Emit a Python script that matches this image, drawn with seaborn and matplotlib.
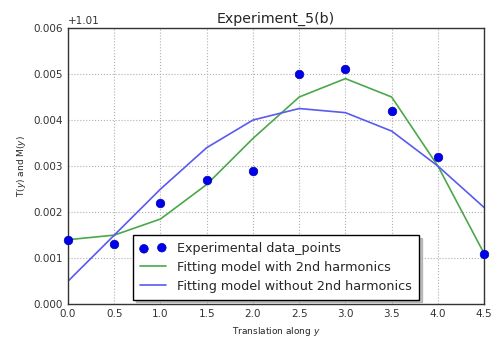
import numpy as np
import pandas as pd
import matplotlib
matplotlib.use("Agg")
import matplotlib.pyplot as plt
import seaborn as sns

x_vals = [0.0, 0.5, 1.0, 1.5, 2.0, 2.5, 3.0, 3.5, 4.0, 4.5]
base = 1.01
exp_points = [0.0014, 0.0013, 0.0022, 0.0027, 0.0029, 0.0050, 0.0051, 0.0042, 0.0032, 0.0011]
fit_with_2nd = [0.0014, 0.0015, 0.00185, 0.0026, 0.0036, 0.0045, 0.0049, 0.0045, 0.0030, 0.0011]
fit_without_2nd = [0.0005, 0.0015, 0.0025, 0.0034, 0.0040, 0.00425, 0.00416, 0.00376, 0.0030, 0.0021]

df = pd.DataFrame({
    "x": x_vals,
    "exp": [base + v for v in exp_points],
    "fit2": [base + v for v in fit_with_2nd],
    "fit1": [base + v for v in fit_without_2nd],
})

sns.set_style("white")
plt.rcParams["font.family"] = ["DejaVu Sans"]

fig, ax = plt.subplots(figsize=(4.93, 3.41), dpi=100)
fig.subplots_adjust(left=0.138, right=0.982, top=0.918, bottom=0.108)

sns.scatterplot(data=df, x="x", y="exp", ax=ax, color="#0000ee", s=38,
                edgecolor="#0000aa", linewidth=0.5, label="Experimental data_points",
                zorder=3, clip_on=False)
sns.lineplot(data=df, x="x", y="fit2", ax=ax, color="#4aa84a", linewidth=1.2,
             label="Fitting model with 2nd harmonics")
sns.lineplot(data=df, x="x", y="fit1", ax=ax, color="#5a5aee", linewidth=1.2,
             label="Fitting model without 2nd harmonics")

ax.set_xlim(0.0, 4.5)
ax.set_ylim(1.010, 1.016)
ax.set_xticks(np.arange(0, 4.51, 0.5))
ax.set_yticks(np.arange(1.010, 1.0161, 0.001))
fmt = matplotlib.ticker.ScalarFormatter(useOffset=1.01)
ax.yaxis.set_major_formatter(fmt)
ax.xaxis.set_major_formatter(matplotlib.ticker.FormatStrFormatter("%.1f"))

ax.grid(True, linestyle=":", color="#b0b0b0", linewidth=0.8)
for s in ax.spines.values():
    s.set_color("#333333")
    s.set_linewidth(1.0)

ax.tick_params(labelsize=7.5, colors="#333333", length=0)
ax.yaxis.get_offset_text().set_fontsize(7.5)
ax.set_title("Experiment_5(b)", fontsize=10.2, pad=4)
ax.set_xlabel("Translation along $y$", fontsize=6.5)
ax.set_ylabel("T($y$) and M($y$)", fontsize=6.5)

leg = ax.legend(loc="lower center", fontsize=9.2, frameon=True, fancybox=False,
                shadow={"color": "#999999", "alpha": 0.6}, borderaxespad=0.35,
                scatterpoints=2, handlelength=2.0, handletextpad=0.9,
                labelspacing=0.45, borderpad=0.55)
leg.get_frame().set_edgecolor("black")
leg.get_frame().set_linewidth(1.0)

fig.savefig("out.png", dpi=100)
